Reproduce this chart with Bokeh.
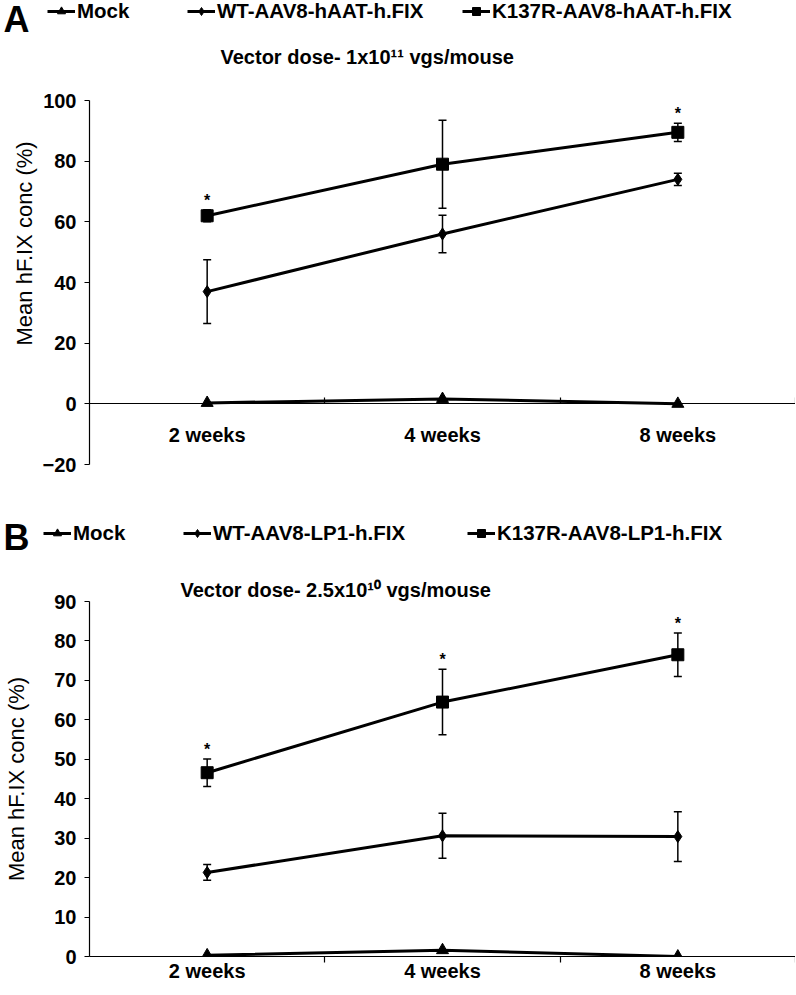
import math
from bokeh.plotting import figure
from bokeh.models import (ColumnDataSource, Whisker, TeeHead, Legend, LegendItem,
                          Label, FixedTicker, Range1d, Title)
from bokeh.embed import file_html
from bokeh.resources import INLINE
from bokeh.core.properties import value

FONT = "Liberation Sans"

categories = ["2 weeks", "4 weeks", "8 weeks"]

# ---- Panel A : vector dose 1x10^11 ----
a_names = ["Mock", "WT-AAV8-hAAT-h.FIX", "K137R-AAV8-hAAT-h.FIX"]
a_title = "Vector dose- 1x10\u00b9\u00b9 vgs/mouse"
a_mock = [0.3, 1.6, 0.0]
a_wt = [37.0, 56.0, 74.0]
a_wt_err = [10.5, 6.2, 2.0]
a_k137r = [62.0, 79.0, 89.5]
a_k137r_err = [2.0, 14.5, 3.0]
a_sig = [True, False, True]
a_yticks = [-20, 0, 20, 40, 60, 80, 100]

# ---- Panel B : vector dose 2.5x10^10 ----
b_names = ["Mock", "WT-AAV8-LP1-h.FIX", "K137R-AAV8-LP1-h.FIX"]
b_title = "Vector dose- 2.5x10\u00b9\u2070 vgs/mouse"
b_mock = [0.3, 1.6, 0.0]
b_wt = [21.3, 30.6, 30.4]
b_wt_err = [2.0, 5.7, 6.3]
b_k137r = [46.6, 64.5, 76.5]
b_k137r_err = [3.5, 8.3, 5.5]
b_sig = [True, True, True]
b_yticks = [0, 10, 20, 30, 40, 50, 60, 70, 80, 90]

YLABEL = "Mean hF.IX conc (%)"

xs = [i + 0.5 for i in range(len(categories))]
bounds = [i + 1 for i in range(len(categories))]
markers = ["triangle", "diamond", "square"]


def header(letter, names, series, height, letter_y, legend_xs, legend_y,
           font_size, title=None, title_xy=None):
    # header strip: its y range lies far from the data, so the series
    # renderers only feed the legend glyphs
    h = figure(width=796, height=height, min_border=0, x_axis_type=None,
               y_axis_type=None, x_range=Range1d(0, 796),
               y_range=Range1d(10000, 10000 + height),
               output_backend="svg", toolbar_location=None)
    h.outline_line_color = None
    h.grid.visible = False
    for name, mk, vals, lx in zip(names, markers, series, legend_xs):
        rl = h.line(xs, vals, line_color="black", line_width=3)
        rm = h.scatter(xs, vals, marker=mk, size=12, color="black")
        lg = Legend(items=[LegendItem(label=name, renderers=[rl, rm])],
                    location=(lx, legend_y), orientation="horizontal",
                    glyph_width=28, glyph_height=20, label_standoff=2,
                    padding=0, margin=0, spacing=0, border_line_alpha=0,
                    background_fill_alpha=0, label_text_font=FONT,
                    label_text_font_style="bold", label_text_font_size=font_size,
                    label_text_color="black", label_height=20)
        h.add_layout(lg)
    h.add_layout(Label(x=3, y=letter_y, x_units="screen", y_units="screen",
                       text=letter, text_font=FONT, text_font_style="bold",
                       text_font_size="36px", text_baseline="middle",
                       text_color="black"))
    if title is not None:
        h.add_layout(Label(x=title_xy[0], y=title_xy[1], x_units="screen",
                           y_units="screen", text=title, text_font=FONT,
                           text_font_style="bold", text_font_size="20px",
                           text_baseline="middle", text_color="black"))
    return h


def panel(mock, wt, wt_err, k, k_err, sig, yticks, frame_h, top, bottom,
          cross_zero, ylabel_offset=None, title=None, title_offset=0):
    p = figure(frame_width=706, frame_height=frame_h, min_border_left=89,
               min_border_right=0, min_border_top=top, min_border_bottom=bottom,
               x_range=Range1d(0, 3), y_range=Range1d(yticks[0], yticks[-1]),
               output_backend="svg", toolbar_location=None)
    p.outline_line_color = None
    p.grid.visible = False

    xa = p.xaxis[0]
    xa.ticker = FixedTicker(ticks=xs, minor_ticks=bounds)
    xa.major_label_overrides = {x: c for x, c in zip(xs, categories)}
    xa.major_tick_line_color = None
    xa.major_tick_in = 0
    xa.major_tick_out = 0
    xa.axis_line_color = "black"
    xa.axis_line_width = 1.2
    xa.minor_tick_line_color = "black"
    xa.minor_tick_line_width = 1.2
    xa.major_label_text_font = FONT
    xa.major_label_text_font_style = "bold"
    xa.major_label_text_font_size = "20px"
    xa.major_label_text_color = "black"
    if cross_zero:
        xa.fixed_location = 0
        xa.minor_tick_in = 6
        xa.minor_tick_out = 0
        xa.major_label_standoff = 20
    else:
        xa.minor_tick_in = 0
        xa.minor_tick_out = 6
        xa.major_label_standoff = -3

    ya = p.yaxis[0]
    ya.ticker = FixedTicker(ticks=yticks, minor_ticks=[])
    ya.axis_line_color = "black"
    ya.axis_line_width = 1.2
    ya.major_tick_line_color = "black"
    ya.major_tick_line_width = 1.2
    ya.major_tick_in = 0
    ya.major_tick_out = 5
    ya.major_label_standoff = 8
    ya.major_label_text_font = FONT
    ya.major_label_text_font_style = "bold"
    ya.major_label_text_font_size = "20px"
    ya.major_label_text_color = "black"

    if ylabel_offset is not None:
        # label sits above the middle of the axis, as in the reference
        p.add_layout(Title(text=YLABEL, align="left", offset=ylabel_offset,
                           standoff=6, text_font=FONT,
                           text_font_style="normal", text_font_size="22px",
                           text_color="black"), "left")
    else:
        ya.axis_label = YLABEL
        ya.axis_label_standoff = 22
        ya.axis_label_text_font = FONT
        ya.axis_label_text_font_style = "normal"
        ya.axis_label_text_font_size = "22px"
        ya.axis_label_text_color = "black"
    if title is not None:
        p.add_layout(Title(text=title, align="left", offset=title_offset,
                           standoff=1, text_font=FONT, text_font_style="bold",
                           text_font_size="20px", text_color="black"), "above")

    p.line(xs, mock, line_color="black", line_width=3)
    p.scatter(xs, mock, marker="triangle", size=12, color="black")

    for vals, errs in ((wt, wt_err), (k, k_err)):
        src = ColumnDataSource(dict(x=xs, up=[v + e for v, e in zip(vals, errs)],
                                    lo=[v - e for v, e in zip(vals, errs)]))
        p.add_layout(Whisker(base="x", upper="up", lower="lo", source=src,
                             line_color="black", line_width=1.5,
                             upper_head=TeeHead(size=8, line_width=1.5),
                             lower_head=TeeHead(size=8, line_width=1.5)))

    p.line(xs, wt, line_color="black", line_width=3)
    p.scatter(xs, wt, marker="diamond", size=12, color="black")
    p.line(xs, k, line_color="black", line_width=3)
    p.scatter(xs, k, marker="square", size=12, color="black")

    sx = [x for x, s in zip(xs, sig) if s]
    sy = [v + e for v, e, s in zip(k, k_err, sig) if s]
    p.text(sx, sy, text=["*"] * len(sx), text_align="center",
           text_baseline="bottom", y_offset=-1, text_font=value(FONT),
           text_font_style="bold", text_font_size="16px", text_color="black")
    return p


ha = header("A", a_names, [a_mock, a_wt, a_k137r], 78, letter_y=59,
            legend_xs=[47, 187, 462], legend_y=55, font_size="20.5px",
            title=a_title, title_xy=(220, 22))
pa = panel(a_mock, a_wt, a_wt_err, a_k137r, a_k137r_err, a_sig, a_yticks,
           frame_h=364, top=22, bottom=46, cross_zero=True, ylabel_offset=119)
hb = header("B", b_names, [b_mock, b_wt, b_k137r], 65, letter_y=38,
            legend_xs=[43, 183, 467], legend_y=30, font_size="20.5px")
pb = panel(b_mock, b_wt, b_wt_err, b_k137r, b_k137r_err, b_sig, b_yticks,
           frame_h=355, top=26, bottom=36, cross_zero=False,
           title=b_title, title_offset=91)

open("out.html", "w").write(file_html([ha, pa, hb, pb], INLINE))
